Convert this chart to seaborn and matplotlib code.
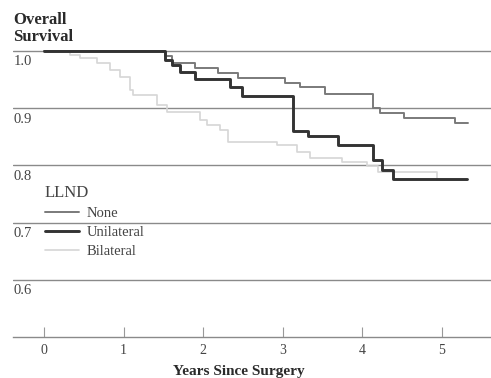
import pandas as pd
import matplotlib.pyplot as plt
import seaborn as sns

# Kaplan-Meier style step curves
none_t = [0, 1.52, 1.61, 1.90, 2.19, 2.44, 3.03, 3.22, 3.53, 4.13, 4.22, 4.52, 5.16, 5.33]
none_s = [1.0, 0.991, 0.979, 0.970, 0.962, 0.953, 0.944, 0.937, 0.925, 0.900, 0.892, 0.883, 0.874, 0.874]

uni_t = [0, 1.52, 1.61, 1.71, 1.90, 2.34, 2.49, 3.13, 3.32, 3.69, 4.13, 4.25, 4.38, 5.31]
uni_s = [1.0, 0.984, 0.976, 0.963, 0.951, 0.937, 0.921, 0.860, 0.852, 0.836, 0.810, 0.792, 0.777, 0.777]

bil_t = [0, 0.33, 0.45, 0.67, 0.83, 0.95, 1.08, 1.12, 1.42, 1.55, 1.96, 2.05, 2.21, 2.31,
         2.93, 3.18, 3.34, 3.74, 4.06, 4.20, 4.94, 5.31]
bil_s = [1.0, 0.993, 0.988, 0.979, 0.967, 0.955, 0.932, 0.923, 0.906, 0.894, 0.880, 0.871,
         0.862, 0.841, 0.836, 0.824, 0.813, 0.806, 0.798, 0.789, 0.775, 0.775]

groups = ["None", "Unilateral", "Bilateral"]
colors = {"None": "#7a7a7a", "Unilateral": "#333333", "Bilateral": "#d6d6d6"}
widths = {"None": 1.4, "Unilateral": 2.1, "Bilateral": 1.2}

y_ticks = [0.6, 0.7, 0.8, 0.9, 1.0]
x_ticks = [0, 1, 2, 3, 4, 5]

df = pd.concat([
    pd.DataFrame({"years": none_t, "surv": none_s, "LLND": "None"}),
    pd.DataFrame({"years": uni_t, "surv": uni_s, "LLND": "Unilateral"}),
    pd.DataFrame({"years": bil_t, "surv": bil_s, "LLND": "Bilateral"}),
])

sns.set_style("white")
plt.rcParams["font.family"] = ["Liberation Serif", "DejaVu Serif"]

fig = plt.figure(figsize=(4.91, 3.78), dpi=100)
ax = fig.add_axes([13 / 491, 0.1085, 478 / 491, 0.8476])

for g in ["Bilateral", "None", "Unilateral"]:
    sns.lineplot(data=df[df["LLND"] == g], x="years", y="surv", ax=ax,
                 color=colors[g], linewidth=widths[g], drawstyle="steps-post",
                 estimator=None, label=None, legend=False)

ax.set_xlim(-0.39, 5.616)
ax.set_ylim(0.5, 1.06)

for v in y_ticks:
    ax.axhline(v, color="#8a8a8a", linewidth=1.0, zorder=0)
    ax.text(-0.378, v - 0.008, f"{v:.1f}", ha="left", va="top", fontsize=10.5, color="#444444")

ax.set_yticks([])
ax.set_xticks(x_ticks)
ax.set_xticklabels([str(t) for t in x_ticks], fontsize=10, color="#444444")
ax.tick_params(axis="x", direction="in", length=7, width=0.8, color="#999999", pad=5, bottom=True)
for s in ["left", "right", "top"]:
    ax.spines[s].set_visible(False)
ax.spines["bottom"].set_color("#8a8a8a")
ax.spines["bottom"].set_linewidth(1.0)
ax.set_xlabel("")
ax.set_ylabel("")

handles = [plt.Line2D([], [], color=colors[g], linewidth=widths[g]) for g in groups]
leg = ax.legend(handles, groups, title="LLND", loc="upper left",
                bbox_to_anchor=(45 / 491, 1 - 185 / 378), bbox_transform=fig.transFigure,
                frameon=False, fontsize=10.5, title_fontsize=12, handlelength=2.3,
                handletextpad=0.55, labelspacing=0.4, borderpad=0, borderaxespad=0,
                alignment="left")
for txt in leg.get_texts():
    txt.set_color("#444444")
leg.get_title().set_color("#444444")

fig.text(13 / 491, 1 - 12 / 378, "Overall\nSurvival", ha="left", va="top",
         fontsize=12, fontweight="bold", color="#2a2a2a", linespacing=1.1)
fig.text(239 / 491, 1 - 372 / 378, "Years Since Surgery", ha="center", va="center",
         fontsize=11, fontweight="bold", color="#2a2a2a")

plt.savefig("out.png", dpi=100)
